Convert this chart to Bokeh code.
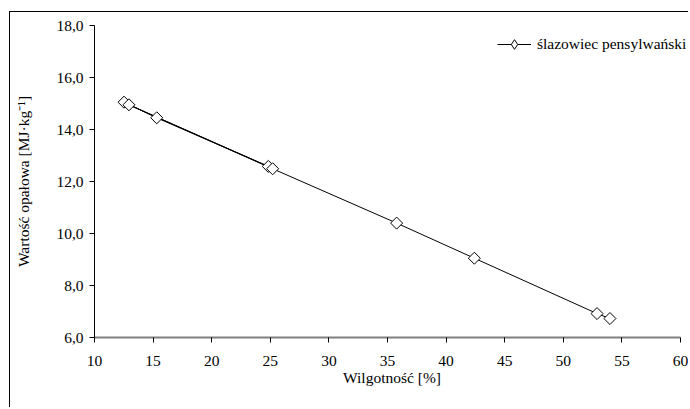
import numpy as np
from bokeh.plotting import figure
from bokeh.models import FixedTicker, CustomJSTickFormatter, Legend, LegendItem, Range1d
from bokeh.embed import file_html
from bokeh.resources import INLINE

# data (order as the line was drawn)
wilgotnosc = [12.52, 15.31, 24.83, 12.94, 25.20, 35.78, 42.41, 52.88, 53.98]
wartosc = [15.05, 14.45, 12.58, 14.95, 12.49, 10.40, 9.05, 6.92, 6.73]
series_name = "ślazowiec pensylwański"
x_ticks = [10, 15, 20, 25, 30, 35, 40, 45, 50, 55, 60]
y_ticks = [6, 8, 10, 12, 14, 16, 18]

FONT = "Liberation Serif, Times New Roman, serif"
FS = "15.5px"

# frame runs to the right edge so the legend text is not clipped;
# the x axis itself stops at 60 via its bounds
p = figure(width=679, height=396, output_backend="svg", toolbar_location=None,
           x_range=Range1d(10, 60.77), y_range=Range1d(6, 18),
           min_border_left=84, min_border_right=0, min_border_top=13, min_border_bottom=71)
p.styles = {"border-left": "1px solid black", "border-top": "1px solid black",
            "margin-top": "11px", "margin-left": "9px"}

p.outline_line_color = None
p.xgrid.visible = False
p.ygrid.visible = False
p.background_fill_color = "white"
p.border_fill_color = "white"

line = p.line(wilgotnosc, wartosc, line_color="black", line_width=1)
pts = p.scatter(wilgotnosc, wartosc, marker="square", angle=np.pi / 4, size=8.5,
                fill_color="white", line_color="black", line_width=1)
# legend-only marker (legend glyphs are never rotated, so use a diamond shape)
legend_marker = p.scatter(x=[np.nan], y=[np.nan], marker="diamond", fill_color="white",
                          line_color="black", line_width=1)

# axes
p.xaxis.bounds = (10, 60)
p.xaxis.ticker = FixedTicker(ticks=x_ticks)
p.yaxis.ticker = FixedTicker(ticks=y_ticks)
p.yaxis.formatter = CustomJSTickFormatter(code="return tick.toFixed(1).replace('.', ',');")
p.xaxis.axis_label = "Wilgotność [%]"
p.yaxis.axis_label = "Wartość opałowa [MJ·kg⁻¹]"
for ax in (p.xaxis[0], p.yaxis[0]):
    ax.major_label_text_font = FONT
    ax.major_label_text_font_size = FS
    ax.major_label_text_color = "black"
    ax.axis_label_text_font = FONT
    ax.axis_label_text_font_size = FS
    ax.axis_label_text_font_style = "normal"
    ax.axis_label_text_color = "black"
    ax.minor_tick_line_color = None
    ax.major_tick_line_color = "black"
    ax.major_tick_in = 0
    ax.major_tick_out = 5

p.xaxis.axis_line_color = "#808080"
p.xaxis.axis_line_width = 2
p.xaxis.major_label_standoff = 13
p.xaxis.axis_label_standoff = 0
p.yaxis.axis_line_color = "black"
p.yaxis.major_label_standoff = 6
p.yaxis.axis_label_standoff = 21

legend = Legend(items=[LegendItem(label=series_name, renderers=[line, legend_marker])],
                location=(403, 281), orientation="vertical",
                padding=0, margin=0, spacing=0, glyph_width=34, glyph_height=24,
                label_standoff=6, border_line_color=None, background_fill_alpha=0,
                label_text_font=FONT, label_text_font_size=FS, label_text_color="black")
p.add_layout(legend, "center")

open("out.html", "w").write(file_html(p, INLINE))
